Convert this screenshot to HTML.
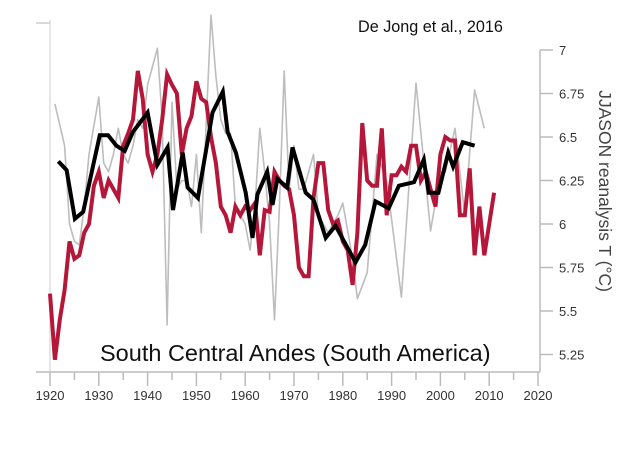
<!DOCTYPE html>
<html><head><meta charset="utf-8"><style>
html,body{margin:0;padding:0;background:#fff;}
svg{display:block;font-family:"Liberation Sans",sans-serif;}
</style></head><body>
<svg id="chart" width="639" height="455">
<g id="axes"></g>
<g id="series"></g>
<text x="358" y="32" font-size="16.2" fill="#111">De Jong et al., 2016</text>
<text x="100" y="361" font-size="23.5" fill="#111">South Central Andes (South America)</text>
<text transform="translate(599,191) rotate(90)" text-anchor="middle" font-size="17.5" fill="#444">JJASON reanalysis T (°C)</text>
</svg>
<script>
const xTicks=[1920,1930,1940,1950,1960,1970,1980,1990,2000,2010,2020];
const yTicks=[5.25,5.5,5.75,6,6.25,6.5,6.75,7];
const redYears=[1920,1921,1922,1923,1924,1925,1926,1927,1928,1929,1930,1931,1932,1933,1934,1935,1936,1937,1938,1939,1940,1941,1942,1943,1944,1945,1946,1947,1948,1949,1950,1951,1952,1953,1954,1955,1956,1957,1958,1959,1960,1961,1962,1963,1964,1965,1966,1967,1968,1969,1970,1971,1972,1973,1974,1975,1976,1977,1978,1979,1980,1981,1982,1983,1984,1985,1986,1987,1988,1989,1990,1991,1992,1993,1994,1995,1996,1997,1998,1999,2000,2001,2002,2003,2004,2005,2006,2007,2008,2009,2010,2011];
const redVals=[5.6,5.22,5.45,5.62,5.9,5.8,5.82,5.95,6.0,6.22,6.3,6.15,6.25,6.2,6.15,6.45,6.52,6.6,6.88,6.72,6.4,6.3,6.4,6.6,6.86,6.8,6.75,6.4,6.55,6.62,6.82,6.72,6.7,6.5,6.35,6.1,6.05,5.95,6.1,6.05,6.1,6.08,6.12,5.82,6.08,6.07,6.3,6.25,6.22,6.2,6.05,5.75,5.7,5.7,6.15,6.35,6.35,6.08,6.0,6.02,5.9,5.85,5.65,5.95,6.58,6.25,6.22,6.22,6.55,6.05,6.28,6.28,6.33,6.3,6.45,6.45,6.25,6.3,6.2,6.1,6.4,6.5,6.48,6.48,6.05,6.05,6.32,5.82,6.1,5.82,6.0,6.18];
const grayYears=[1921,1923,1924,1925,1926,1927,1928,1930,1931,1932,1933,1934,1935,1936,1937,1938,1939,1940,1942,1943,1944,1945,1946,1947,1948,1949,1950,1951,1953,1954,1955,1956,1957,1958,1959,1960,1961,1962,1963,1964,1965,1966,1967,1968,1969,1970,1971,1972,1974,1975,1977,1979,1980,1982,1983,1985,1987,1989,1992,1995,1998,2000,2001,2003,2005,2007,2009];
const grayVals=[6.69,6.45,6.0,5.9,5.88,6.1,6.4,6.73,6.35,6.3,6.4,6.55,6.4,6.35,6.45,6.6,6.55,6.8,7.01,6.6,5.42,6.7,6.2,6.25,6.25,6.1,6.4,5.95,7.2,6.85,6.6,6.52,6.52,6.1,6.05,6.0,5.85,6.1,6.55,6.3,6.0,5.45,6.1,6.88,6.2,6.45,6.2,6.2,6.4,6.05,5.95,6.05,6.12,5.8,5.57,5.72,6.4,6.25,5.58,6.81,5.96,6.3,6.3,6.55,6.05,6.77,6.55];
const blackYears=[1921.7,1923.4,1925.1,1926.8,1928.8,1930.2,1931.9,1933.6,1935.3,1937,1940,1942,1944.1,1945.2,1947.2,1948.2,1950.3,1953.3,1955.4,1956.4,1958.1,1960.1,1961.5,1962.5,1964.5,1965.6,1966.6,1968.6,1969.7,1972.4,1974,1976.5,1978.5,1982.6,1984.6,1986.7,1989.4,1991.5,1994.6,1996.6,1997.6,1999.6,2001.6,2002.6,2004.6,2007];
const blackVals=[6.36,6.31,6.03,6.07,6.33,6.51,6.51,6.45,6.42,6.53,6.64,6.34,6.44,6.08,6.41,6.21,6.15,6.64,6.76,6.53,6.41,6.18,5.92,6.17,6.30,6.11,6.26,6.21,6.44,6.18,6.14,5.92,5.99,5.78,5.88,6.13,6.09,6.22,6.24,6.37,6.18,6.18,6.41,6.33,6.47,6.45];

const NS='http://www.w3.org/2000/svg';
function X(yr){return 50+(yr-1920)*4.88;}
function Y(v){return 50+(7-v)*174;}
function mk(tag,attrs,parent){const e=document.createElementNS(NS,tag);for(const k in attrs)e.setAttribute(k,attrs[k]);parent.appendChild(e);return e;}
const axes=document.getElementById('axes');
const series=document.getElementById('series');
let l;
l=mk('line',{x1:50,y1:20,x2:50,y2:372,stroke:'#ddd','stroke-width':1.5},axes);


l=mk('line',{x1:36,y1:23,x2:50,y2:23,stroke:'#ccc','stroke-width':1.5},axes);


l=mk('line',{x1:36,y1:372,x2:540,y2:372,stroke:'#bbb','stroke-width':1.5},axes);


l=mk('line',{x1:540,y1:50,x2:540,y2:372,stroke:'#bbb','stroke-width':1.5},axes);


for(let yr=1920;yr<=2020;yr+=5){
  const major=yr%10===0;
  const t=mk('line',{x1:X(yr),y1:372,x2:X(yr),y2:major?386:380,stroke:'#bbb','stroke-width':1.5},axes);
  
  
}
xTicks.forEach(yr=>{
  const t=mk('text',{x:X(yr),y:400,'text-anchor':'middle','font-size':13,fill:'#333'},axes);
  t.textContent=yr;
  
  
});
yTicks.forEach(v=>{
  const t=mk('line',{x1:540,y1:Y(v),x2:553,y2:Y(v),stroke:'#bbb','stroke-width':1.5},axes);
  
  
  const s=mk('text',{x:559,y:Y(v)+5,'font-size':13,fill:'#333'},axes);
  s.textContent=v;
  
  
});
function pts(ys,vs){return ys.map((y,i)=>X(y).toFixed(1)+','+Y(vs[i]).toFixed(1)).join(' ');}
let p;
p=mk('polyline',{points:pts(grayYears,grayVals),fill:'none',stroke:'#bdbdbd','stroke-width':1.6,'stroke-linejoin':'round'},series);


p=mk('polyline',{points:pts(redYears,redVals),fill:'none',stroke:'#b5173a','stroke-width':4,'stroke-linejoin':'miter'},series);


p=mk('polyline',{points:pts(blackYears,blackVals),fill:'none',stroke:'#000','stroke-width':4,'stroke-linejoin':'miter'},series);


</script>
</body></html>
